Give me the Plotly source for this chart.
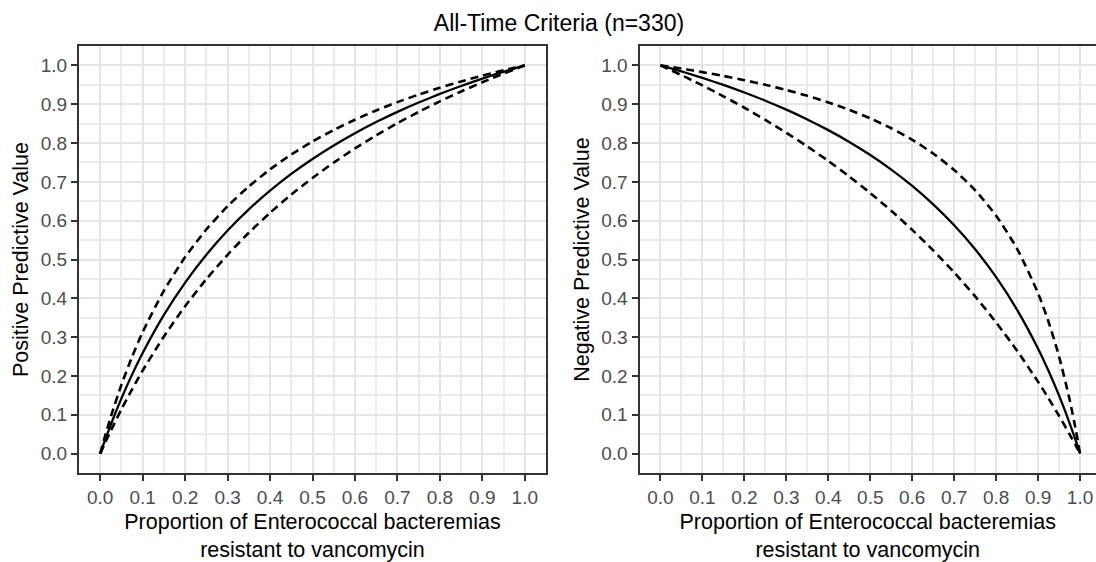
import plotly.graph_objects as go

# Proportion of Enterococcal bacteremias resistant to vancomycin (prevalence)
prevalence = [0, 0.01, 0.025, 0.05, 0.075, 0.1, 0.15, 0.2, 0.25, 0.3, 0.35, 0.4, 0.45,
              0.5, 0.55, 0.6, 0.65, 0.7, 0.75, 0.8, 0.85, 0.9, 0.925, 0.95, 0.975, 0.99, 1.0]

# Positive predictive value: estimate and confidence bounds
ppv_est = [0, 0.0308, 0.0747, 0.1422, 0.2034, 0.2593, 0.3573, 0.4406, 0.5122, 0.5745,
           0.6291, 0.6774, 0.7205, 0.7590, 0.7938, 0.8253, 0.8540, 0.8802, 0.9043,
           0.9265, 0.9469, 0.9659, 0.9749, 0.9836, 0.9919, 0.9968, 1.0]
ppv_upper = [0, 0.0398, 0.0951, 0.1775, 0.2495, 0.3130, 0.4198, 0.5062, 0.5775, 0.6373,
             0.6882, 0.7321, 0.7704, 0.8039, 0.8336, 0.8601, 0.8839, 0.9054, 0.9248,
             0.9425, 0.9587, 0.9736, 0.9806, 0.9873, 0.9938, 0.9975, 1.0]
ppv_lower = [0, 0.0241, 0.0591, 0.1142, 0.1657, 0.2140, 0.3018, 0.3798, 0.4495, 0.5122,
             0.5688, 0.6203, 0.6672, 0.7101, 0.7497, 0.7861, 0.8198, 0.8511, 0.8802,
             0.9074, 0.9328, 0.9566, 0.9680, 0.9790, 0.9896, 0.9959, 1.0]

# Negative predictive value: estimate and confidence bounds
npv_est = [1.0, 0.9970, 0.9924, 0.9845, 0.9763, 0.9677, 0.9497, 0.9302, 0.9091, 0.8861,
           0.8609, 0.8333, 0.8029, 0.7692, 0.7317, 0.6897, 0.6422, 0.5882, 0.5263,
           0.4545, 0.3704, 0.2703, 0.2128, 0.1493, 0.0787, 0.0326, 0]
npv_upper = [1.0, 0.9984, 0.9960, 0.9918, 0.9874, 0.9827, 0.9729, 0.9620, 0.9500, 0.9366,
             0.9216, 0.9047, 0.8855, 0.8636, 0.8381, 0.8084, 0.7731, 0.7306, 0.6784,
             0.6127, 0.5276, 0.4129, 0.3391, 0.2499, 0.1396, 0.0601, 0]
npv_lower = [1.0, 0.9951, 0.9876, 0.9749, 0.9618, 0.9484, 0.9204, 0.8909, 0.8596, 0.8264,
             0.7912, 0.7538, 0.7138, 0.6711, 0.6254, 0.5764, 0.5236, 0.4666, 0.4049,
             0.3378, 0.2648, 0.1848, 0.1420, 0.0970, 0.0497, 0.0202, 0]

tick_vals = [0, 0.1, 0.2, 0.3, 0.4, 0.5, 0.6, 0.7, 0.8, 0.9, 1.0]
tick_text = ["0.0", "0.1", "0.2", "0.3", "0.4", "0.5", "0.6", "0.7", "0.8", "0.9", "1.0"]

title_text = "All-Time Criteria (n=330)"
x_title = "Proportion of Enterococcal bacteremias<br>resistant to vancomycin"
ppv_title = "Positive Predictive Value"
npv_title = "Negative Predictive Value"

FONT = "Liberation Sans, Arial, Helvetica, sans-serif"
DASH = "8px,5px"

fig = go.Figure()

def add_line(x, y, xa, ya, dash, width):
    fig.add_trace(go.Scatter(
        x=x, y=y, xaxis=xa, yaxis=ya, mode="lines",
        line=dict(color="black", width=width, dash=dash, shape="spline", smoothing=0.6),
        showlegend=False, hoverinfo="skip"))

add_line(prevalence, ppv_upper, "x", "y", DASH, 2.6)
add_line(prevalence, ppv_lower, "x", "y", DASH, 2.6)
add_line(prevalence, ppv_est, "x", "y", "solid", 2.3)
add_line(prevalence, npv_upper, "x2", "y2", DASH, 2.6)
add_line(prevalence, npv_lower, "x2", "y2", DASH, 2.6)
add_line(prevalence, npv_est, "x2", "y2", "solid", 2.3)

W, H = 1096, 562
L, R, T, B = 79, 0, 46, 89
pw = W - L - R

frame = "#333333"
minor = dict(dtick=0.05, tick0=0, showgrid=True, gridcolor="#EBEBEB", gridwidth=1.6, ticks="")

def xaxis(domain, rng, anchor):
    return dict(domain=domain, range=rng, anchor=anchor, tickmode="array",
                tickvals=tick_vals, ticktext=tick_text,
                showgrid=True, gridcolor="#E5E5E5", gridwidth=2, minor=minor,
                showline=True, linecolor=frame, linewidth=2, mirror=True,
                ticks="outside", ticklen=6, tickwidth=2, tickcolor=frame,
                tickfont=dict(family=FONT, size=19, color="#4D4D4D"),
                title=dict(text=x_title, font=dict(family=FONT, size=21.5, color="black"), standoff=8),
                zeroline=False, fixedrange=True)

def yaxis(anchor, title, mirror):
    return dict(domain=[0, 1], range=[-0.05, 1.05], anchor=anchor, tickmode="array",
                tickvals=tick_vals, ticktext=tick_text,
                showgrid=True, gridcolor="#E5E5E5", gridwidth=2, minor=minor,
                showline=True, linecolor=frame, linewidth=2, mirror=mirror,
                ticks="outside", ticklen=6, tickwidth=2, tickcolor=frame,
                tickfont=dict(family=FONT, size=19, color="#4D4D4D"),
                title=dict(text=title, font=dict(family=FONT, size=21.5, color="black"), standoff=6),
                zeroline=False, fixedrange=True)

x2_left = (639.5 - L) / pw
fig.update_layout(
    width=W, height=H,
    margin=dict(l=L, r=R, t=T, b=B, pad=0),
    paper_bgcolor="white", plot_bgcolor="white",
    font=dict(family=FONT),
    title=dict(text=title_text, x=(559 - L) / pw, xref="paper", xanchor="center",
               y=1 - 23 / H, yref="container", yanchor="middle",
               font=dict(family=FONT, size=23, color="black")),
    xaxis=xaxis([0, 467 / pw], [-0.05, 1.05], "y"),
    yaxis=yaxis("x", ppv_title, True),
    xaxis2=xaxis([x2_left, 1], [-0.05, 1.038], "y2"),
    yaxis2=yaxis("x2", npv_title, False),
)

fig.write_html("out.html")
